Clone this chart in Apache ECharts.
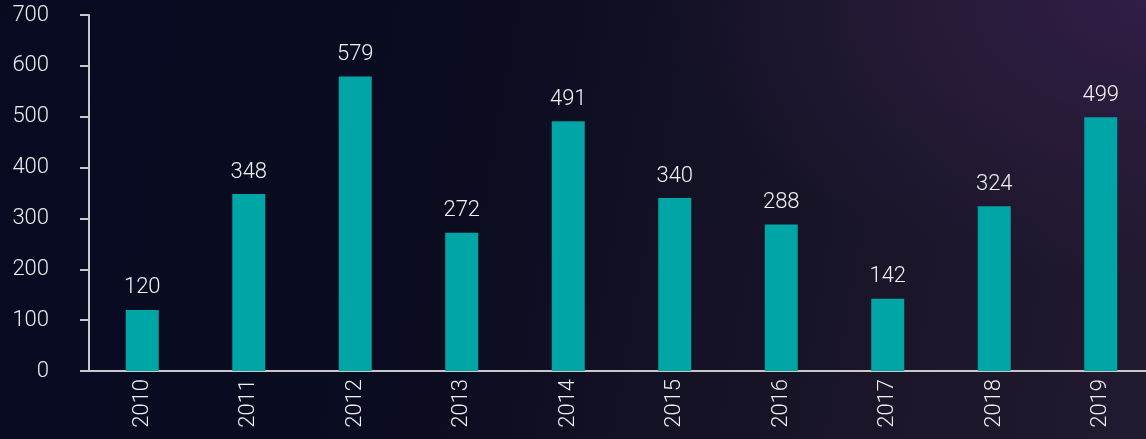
<!DOCTYPE html>
<html>
<head>
<meta charset="utf-8">
<script src="https://cdn.jsdelivr.net/npm/echarts@6/dist/echarts.min.js"></script>
<style>
  html, body { margin: 0; padding: 0; }
  body {
    width: 1146px; height: 439px; overflow: hidden;
    background:
      radial-gradient(ellipse 60% 90% at 100% 0%, rgba(48, 30, 70, 0.95), rgba(48, 30, 70, 0) 70%),
      linear-gradient(100deg, #070b22 0%, #0b0c20 40%, #181427 70%, #221a30 100%);
  }
  /* 画布比窗口略宽，最后一根柱子的区间超出右边 */
  #chart { width: 1160px; height: 439px; }
</style>
</head>
<body>
<div id="chart"></div>
<script>
  // 年份和数值
  var years = ['2010', '2011', '2012', '2013', '2014', '2015', '2016', '2017', '2018', '2019']
  var counts = [120, 348, 579, 272, 491, 340, 288, 142, 324, 499]

  var chart = echarts.init(document.getElementById('chart'))
  var option = {
    backgroundColor: 'transparent',
    textStyle: { fontFamily: 'Roboto', fontWeight: 300 },
    grid: { left: 89, right: 6, top: 15, bottom: 68 },
    xAxis: {
      type: 'category',
      data: years,
      axisLine: { lineStyle: { color: '#c8c8c8', width: 2 } },
      axisTick: { show: false },
      axisLabel: { rotate: 90, color: '#eeeeee', fontSize: 22, margin: 8, fontWeight: 300 }
    },
    yAxis: {
      type: 'value',
      min: 0,
      max: 700,
      interval: 100,
      splitLine: { show: false },
      axisLine: { show: true, lineStyle: { color: '#c8c8c8', width: 2 } },
      axisTick: { show: true, length: 9, lineStyle: { color: '#c8c8c8', width: 2 } },
      axisLabel: { color: '#eeeeee', fontSize: 22, margin: 40, fontWeight: 300 }
    },
    series: [{
      type: 'bar',
      data: counts,
      barWidth: 33,
      itemStyle: { color: '#00a5a5' },
      label: {
        show: true,
        position: 'top',
        distance: 11,
        color: '#f2f2f2',
        fontSize: 22,
        fontWeight: 300
      }
    }]
  }
  chart.setOption(option)
</script>
</body>
</html>
